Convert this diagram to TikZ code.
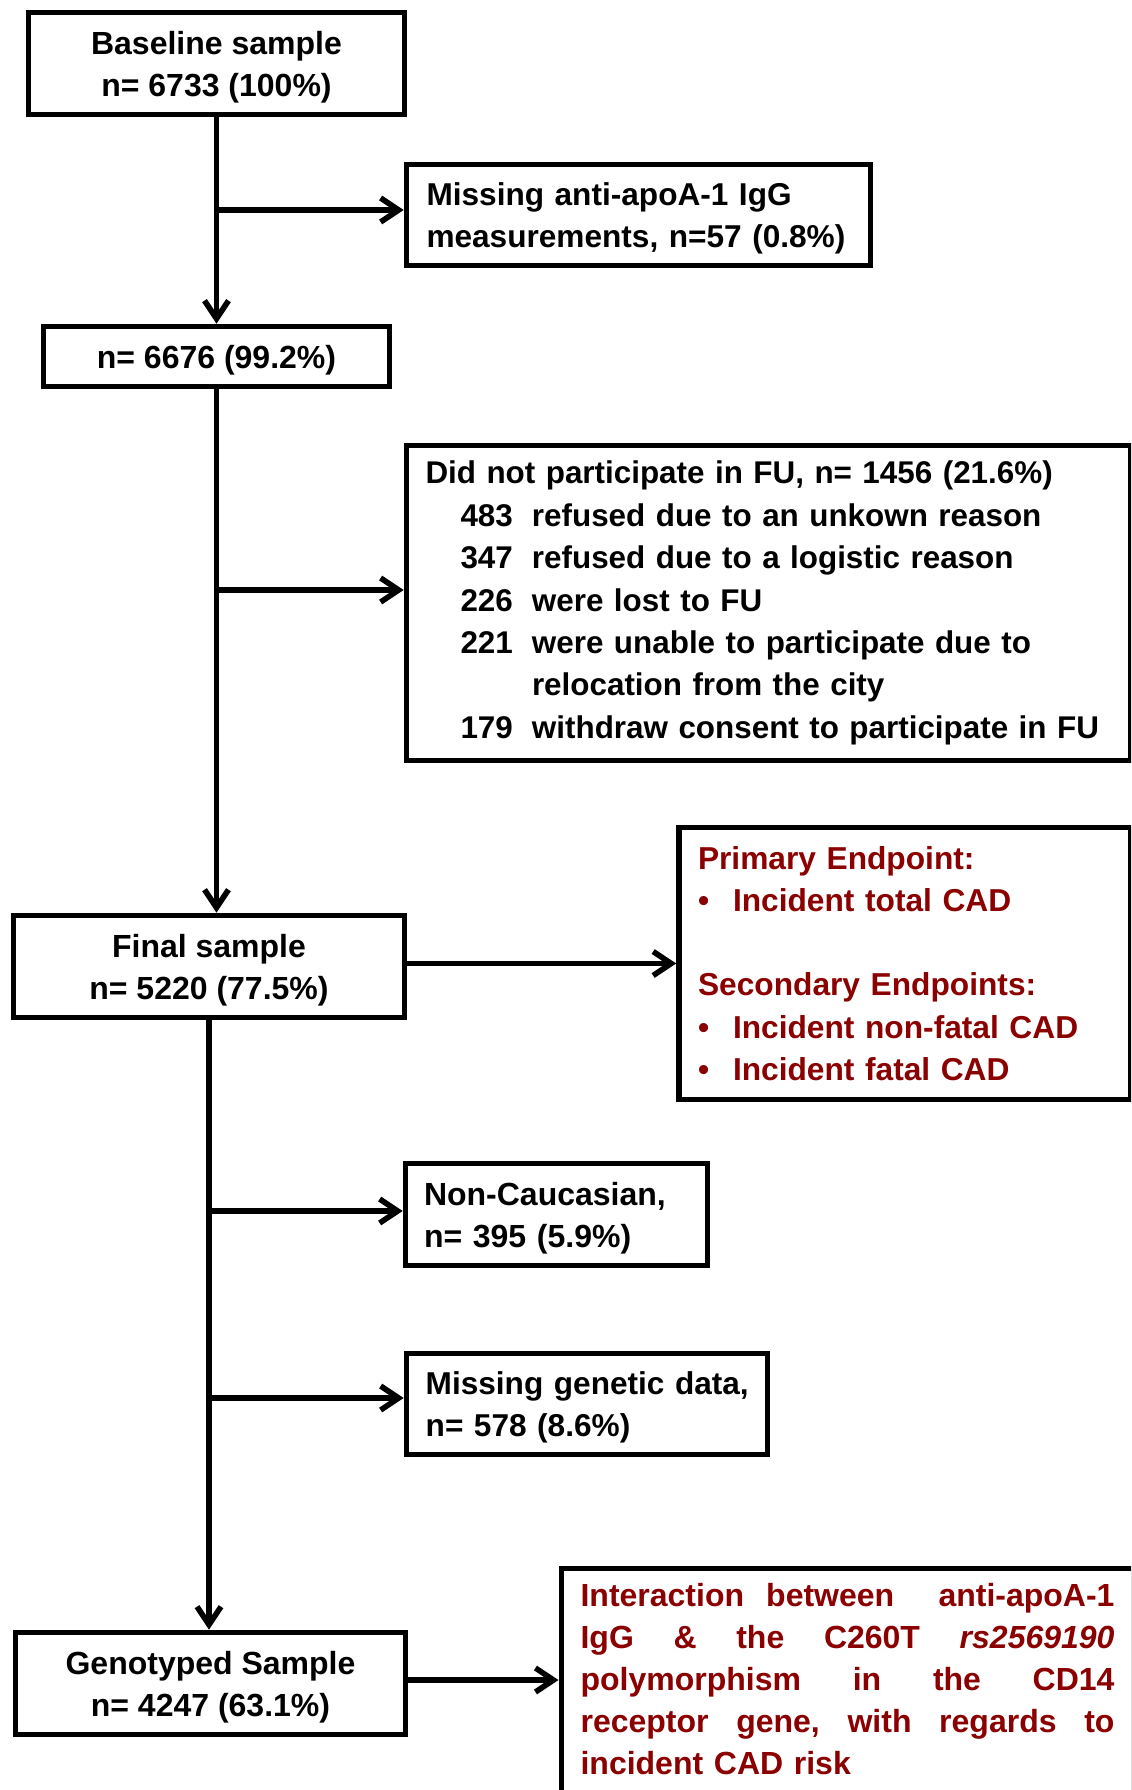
\documentclass[tikz,border=0pt]{standalone}
\usepackage{fontspec}
\setmainfont{Liberation Sans}
\usetikzlibrary{arrows.meta}
\definecolor{endred}{RGB}{139,0,0}
\newcommand{\mystrut}{\rule{0pt}{15pt}}
\begin{document}
\begin{tikzpicture}[x=0.5pt,y=-0.5pt,
  box/.style={draw, rectangle, line width=2.8pt, inner sep=0pt,
    font=\bfseries\fontsize{16}{21.1}\selectfont},
  cbox/.style={box, align=center},
  lbox/.style={box, align=left},
  arr/.style={-{Straight Barb[length=9pt,width=12pt]}, line width=2.8pt},
]
\clip (0,0) rectangle (1131,1790);
\fill[white] (0,0) rectangle (1131,1790);

\node[cbox, minimum width=188pt, minimum height=51pt] (base) at (216.5,63.5)
  {\mystrut Baseline sample\\n= 6733 (100\%)};
\node[lbox, text height=14.6pt, text width=212pt, inner xsep=10pt, minimum height=50.5pt,
  font=\bfseries\fontsize{15.8}{21.1}\selectfont] (miss1) at (638.5,215)
  {\mbox{Missing anti-apoA-1 IgG}\\\mbox{measurements, n=57 (0.8\%)}};
\node[cbox, text height=15pt, minimum width=173pt, minimum height=30pt] (n6676) at (216.5,356.5)
  {n= 6676 (99.2\%)};
\node[lbox, text width=343.25pt, inner xsep=9.5pt, minimum height=157.5pt,
  font=\bfseries\fontsize{15.7}{21.2}\selectfont] (dnp) at (768.75,603)
  {\mbox{Did not participate in FU, n= 1456 (21.6\%)}\\
   \hspace*{17.5pt}\makebox[35.75pt][l]{483}refused due to an unkown reason\\
   \hspace*{17.5pt}\makebox[35.75pt][l]{347}refused due to a logistic reason\\
   \hspace*{17.5pt}\makebox[35.75pt][l]{226}were lost to FU\\
   \hspace*{17.5pt}\makebox[35.75pt][l]{221}were unable to participate due to\\
   \hspace*{53.25pt}relocation from the city\\
   \hspace*{17.5pt}\makebox[35.75pt][l]{179}\mbox{withdraw consent to participate in FU}};
\node[cbox, minimum width=195.5pt, minimum height=51pt] (final) at (209,966.5)
  {\mystrut Final sample\\n= 5220 (77.5\%)};
\node[lbox, text=endred, text width=207pt, inner xsep=9.5pt, minimum height=136pt,
  font=\bfseries\fontsize{15.85}{21.1}\selectfont] (endp) at (905,963.5)
  {Primary Endpoint:\\
   \makebox[17.5pt][l]{•}Incident total CAD\\[21.1pt]
   Secondary Endpoints:\\
   \makebox[17.5pt][l]{•}\mbox{Incident non-fatal CAD}\\
   \makebox[17.5pt][l]{•}Incident fatal CAD};
\node[lbox, text height=15pt, text width=132.5pt, inner xsep=9.25pt, minimum height=51pt] (noncauc) at (556.5,1214.5)
  {\mbox{Non-Caucasian,}\\\mbox{n= 395 (5.9\%)}};
\node[lbox, text height=14.8pt, text width=161.3pt, inner xsep=9.6pt, minimum height=50.5pt,
  font=\bfseries\fontsize{15.8}{21.1}\selectfont] (missgen) at (587,1404)
  {\mbox{Missing genetic data,}\\\mbox{n= 578 (8.6\%)}};
\node[cbox, minimum width=195pt, minimum height=51pt] (geno) at (210.5,1683.5)
  {\mystrut Genotyped Sample\\n= 4247 (63.1\%)};
\node[lbox, anchor=north west, text=endred, text width=267pt, inner xsep=9.25pt, inner ysep=7.3pt,
  minimum width=286.25pt, font=\bfseries\fontsize{16}{21.1}\selectfont] (inter) at (558.5,1565.5)
  {Interaction\hfill between\hfill\hfill anti-apoA-1\\
   IgG\hfill\&\hfill the\hfill C260T\hfill \textit{rs2569190}\\
   polymorphism\hfill in\hfill the\hfill CD14\\
   receptor\hfill gene,\hfill with\hfill regards\hfill to\\
   incident CAD risk\rule[-30pt]{0pt}{0pt}};

\coordinate (j1) at (216.5,210);
\coordinate (j2) at (216.5,590);
\coordinate (j3) at (209,1211);
\coordinate (j4) at (209,1398);
\coordinate (j5) at (405.5,1680);

\draw[arr] (base.south) -- (base.south |- n6676.north);
\draw[arr] (j1) -- (j1 -| miss1.west);
\draw[arr] (n6676.south) -- (n6676.south |- final.north);
\draw[arr] (j2) -- (j2 -| dnp.west);
\draw[arr] (final.east |- endp.west) -- (endp.west);
\draw[arr] (final.south) -- (final.south |- geno.north);
\draw[arr] (j3) -- (j3 -| noncauc.west);
\draw[arr] (j4) -- (j4 -| missgen.west);
\draw[arr] (j5 -| geno.east) -- (j5 -| inter.west);
\end{tikzpicture}
\end{document}
